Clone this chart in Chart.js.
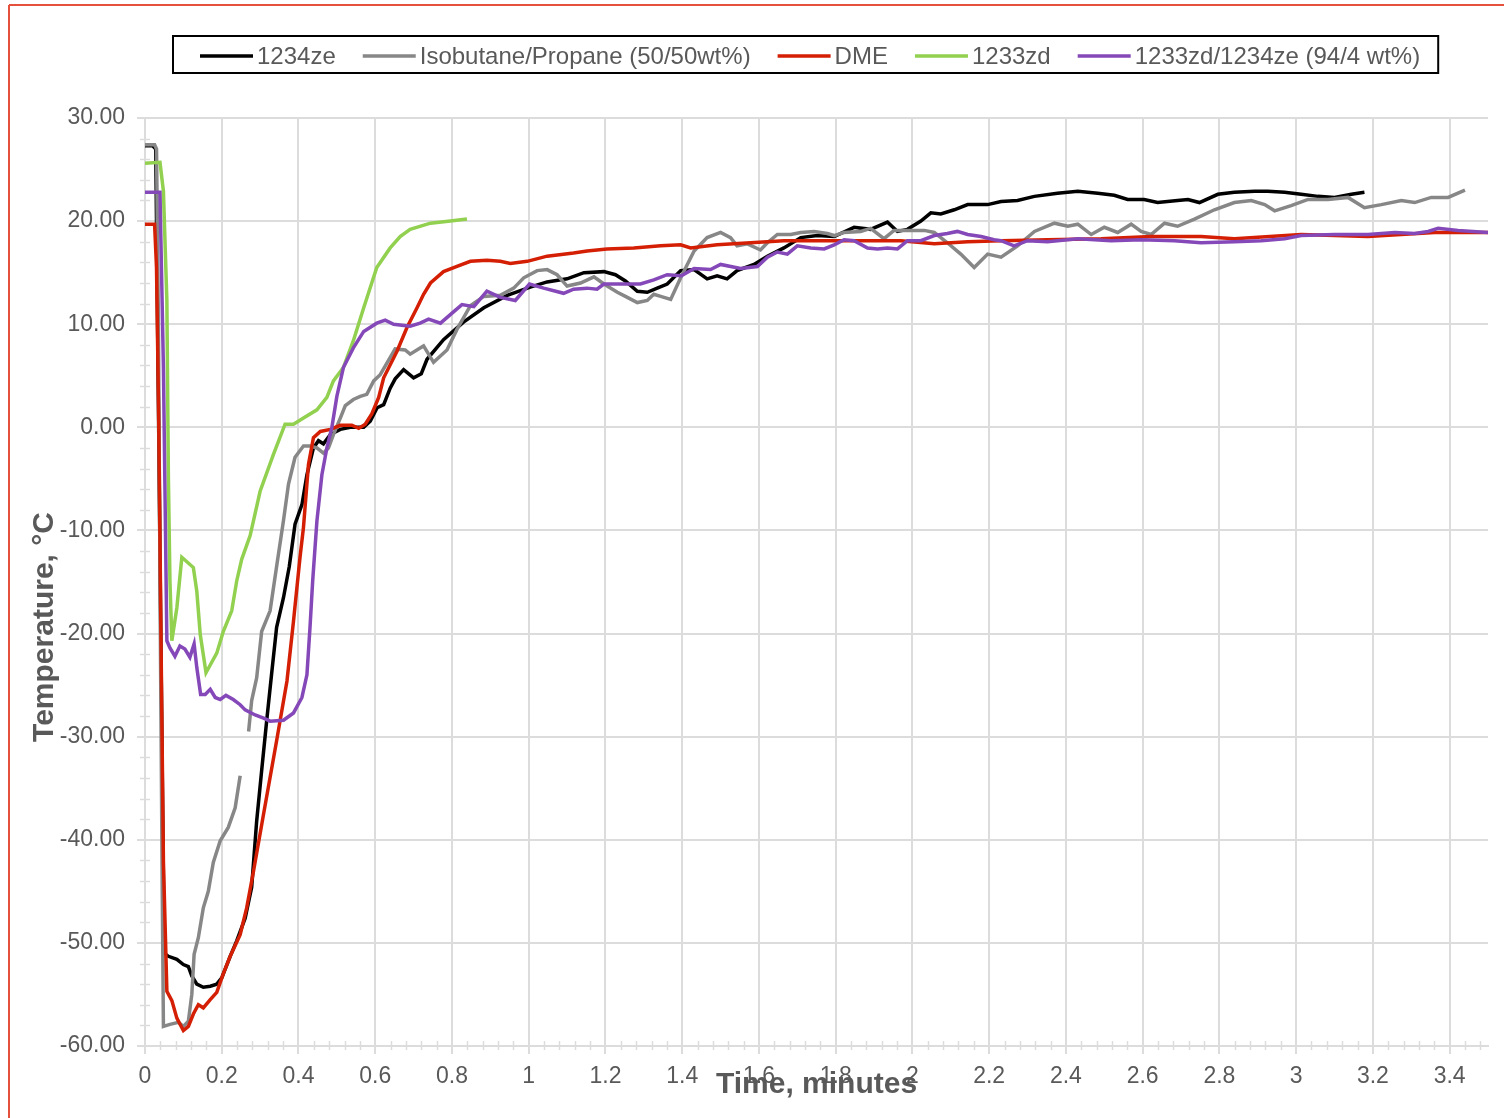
<!DOCTYPE html>
<html>
<head>
<meta charset="utf-8">
<script src="https://cdn.jsdelivr.net/npm/chart.js@4.4.1/dist/chart.umd.min.js"></script>
<style>
  html, body { margin: 0; padding: 0; background: #fff; }
  canvas { display: block; }
</style>
</head>
<body>
<canvas id="tempChart" width="1504" height="1118"></canvas>
<script>
// Time (minutes) / temperature (°C)
const ze1234Time = [0, 0.02, 0.028, 0.05, 0.061, 0.083, 0.1, 0.113, 0.122, 0.135, 0.152, 0.17, 0.187, 0.2, 0.222, 0.239, 0.261, 0.278, 0.291, 0.304, 0.317, 0.33, 0.343, 0.361, 0.376, 0.391, 0.409, 0.422, 0.439, 0.452, 0.465, 0.483, 0.509, 0.535, 0.57, 0.587, 0.605, 0.622, 0.639, 0.652, 0.674, 0.7, 0.72, 0.735, 0.778, 0.83, 0.883, 0.944, 1.004, 1.048, 1.1, 1.144, 1.196, 1.226, 1.252, 1.283, 1.309, 1.335, 1.361, 1.396, 1.431, 1.465, 1.491, 1.517, 1.543, 1.587, 1.622, 1.665, 1.709, 1.752, 1.796, 1.848, 1.891, 1.935, 1.961, 1.987, 2.022, 2.048, 2.074, 2.109, 2.144, 2.196, 2.231, 2.274, 2.318, 2.378, 2.431, 2.483, 2.526, 2.561, 2.604, 2.639, 2.691, 2.718, 2.748, 2.796, 2.839, 2.892, 2.926, 2.97, 3.013, 3.057, 3.1, 3.144, 3.178];
const ze1234Temp = [27.3, 27.3, 27.0, -51.0, -51.3, -51.6, -52.1, -52.3, -53.2, -54.0, -54.3, -54.2, -54.0, -53.4, -51.3, -49.8, -47.6, -44.6, -38.2, -33.3, -28.5, -23.9, -19.4, -16.5, -13.5, -9.4, -7.5, -4.6, -2.0, -1.3, -1.6, -0.7, -0.2, 0.0, 0.0, 0.6, 1.9, 2.2, 3.8, 4.7, 5.6, 4.8, 5.2, 6.6, 8.5, 10.2, 11.6, 12.8, 13.6, 14.1, 14.4, 15.0, 15.1, 14.8, 14.2, 13.2, 13.1, 13.5, 13.9, 15.2, 15.3, 14.4, 14.7, 14.4, 15.2, 15.8, 16.6, 17.4, 18.4, 18.6, 18.5, 19.4, 19.2, 19.9, 19.0, 19.2, 20.0, 20.8, 20.7, 21.1, 21.6, 21.6, 21.9, 22.0, 22.4, 22.7, 22.9, 22.7, 22.5, 22.1, 22.1, 21.8, 22.0, 22.1, 21.8, 22.6, 22.8, 22.9, 22.9, 22.8, 22.6, 22.4, 22.3, 22.6, 22.8];

const isoPropTime = [0, 0.025, 0.03, 0.035, 0.04, 0.045, 0.048, 0.065, 0.087, 0.1, 0.113, 0.122, 0.128, 0.139, 0.152, 0.165, 0.178, 0.196, 0.217, 0.235, 0.248, 0.259, 0.27, 0.278, 0.291, 0.304, 0.326, 0.343, 0.361, 0.374, 0.391, 0.413, 0.43, 0.448, 0.465, 0.478, 0.491, 0.509, 0.522, 0.543, 0.561, 0.578, 0.596, 0.613, 0.652, 0.678, 0.691, 0.717, 0.726, 0.752, 0.787, 0.813, 0.848, 0.883, 0.926, 0.961, 0.987, 1.022, 1.048, 1.074, 1.1, 1.135, 1.17, 1.196, 1.231, 1.257, 1.283, 1.309, 1.326, 1.344, 1.37, 1.396, 1.431, 1.465, 1.5, 1.526, 1.543, 1.57, 1.604, 1.622, 1.648, 1.683, 1.709, 1.744, 1.778, 1.796, 1.822, 1.865, 1.891, 1.926, 1.952, 1.987, 2.031, 2.057, 2.091, 2.126, 2.161, 2.196, 2.231, 2.274, 2.318, 2.37, 2.405, 2.431, 2.466, 2.5, 2.535, 2.57, 2.596, 2.622, 2.657, 2.691, 2.735, 2.787, 2.839, 2.883, 2.918, 2.944, 2.987, 3.031, 3.083, 3.135, 3.178, 3.222, 3.274, 3.309, 3.352, 3.396, 3.44];
const isoPropTemp = [27.4, 27.4, 27.0, 10.0, -20.0, -45.0, -58.1, -57.9, -57.7, -58.1, -57.6, -55.0, -51.1, -49.5, -46.6, -45.0, -42.2, -40.1, -38.8, -36.9, -33.8, null, -29.5, -26.5, -24.3, -19.8, -17.8, -13.5, -9.0, -5.5, -2.9, -1.8, -1.8, -2.0, -2.5, -2.0, -0.7, 0.9, 2.1, 2.7, 3.0, 3.2, 4.5, 5.1, 7.6, 7.5, 7.1, 7.7, 7.9, 6.3, 7.5, 9.5, 11.8, 12.7, 12.8, 13.5, 14.5, 15.2, 15.3, 14.8, 13.7, 14.0, 14.6, 13.9, 13.1, 12.6, 12.1, 12.3, 12.9, 12.7, 12.4, 14.5, 17.1, 18.4, 18.9, 18.4, 17.6, 17.8, 17.2, 17.9, 18.7, 18.7, 18.9, 19.0, 18.8, 18.6, 18.9, 19.0, 19.3, 18.3, 19.1, 19.1, 19.1, 18.9, 17.9, 16.8, 15.5, 16.8, 16.5, 17.6, 19.0, 19.8, 19.5, 19.7, 18.7, 19.4, 18.9, 19.7, 19.0, 18.7, 19.8, 19.5, 20.2, 21.1, 21.8, 22.0, 21.6, 21.0, 21.5, 22.1, 22.1, 22.3, 21.3, 21.6, 22.0, 21.8, 22.3, 22.3, 23.0];

const dmeTime = [0, 0.025, 0.03, 0.036, 0.043, 0.048, 0.057, 0.07, 0.083, 0.1, 0.113, 0.126, 0.139, 0.152, 0.17, 0.187, 0.204, 0.222, 0.248, 0.265, 0.283, 0.309, 0.343, 0.37, 0.387, 0.404, 0.413, 0.426, 0.439, 0.457, 0.483, 0.509, 0.539, 0.557, 0.574, 0.591, 0.609, 0.622, 0.657, 0.683, 0.709, 0.726, 0.744, 0.778, 0.813, 0.848, 0.891, 0.926, 0.952, 0.996, 1.048, 1.117, 1.152, 1.204, 1.274, 1.344, 1.396, 1.422, 1.491, 1.578, 1.665, 1.796, 1.883, 1.97, 2.057, 2.144, 2.231, 2.352, 2.492, 2.622, 2.752, 2.839, 3.013, 3.187, 3.361, 3.5];
const dmeTemp = [19.7, 19.7, 15.5, 0.0, -25.0, -42.1, -54.7, -55.6, -57.3, -58.5, -58.1, -56.9, -56.0, -56.3, -55.5, -54.8, -53.0, -51.3, -49.2, -46.6, -43.0, -37.5, -30.4, -24.6, -18.8, -12.6, -9.7, -3.6, -1.0, -0.4, -0.2, 0.2, 0.2, -0.1, 0.3, 1.3, 2.9, 4.8, 7.4, 9.7, 11.6, 12.9, 14.0, 15.1, 15.6, 16.1, 16.2, 16.1, 15.9, 16.1, 16.6, 16.9, 17.1, 17.3, 17.4, 17.6, 17.7, 17.4, 17.7, 17.9, 18.1, 18.1, 18.1, 18.1, 17.8, 18.0, 18.1, 18.2, 18.3, 18.5, 18.5, 18.3, 18.7, 18.5, 18.9, 18.9];

const zd1233Time = [0, 0.039, 0.048, 0.057, 0.061, 0.065, 0.07, 0.083, 0.096, 0.126, 0.135, 0.144, 0.159, 0.187, 0.204, 0.226, 0.239, 0.252, 0.274, 0.3, 0.335, 0.365, 0.387, 0.413, 0.448, 0.474, 0.491, 0.517, 0.543, 0.57, 0.604, 0.639, 0.665, 0.691, 0.744, 0.796, 0.839];
const zd1233Temp = [25.6, 25.7, 22.9, 12.3, -5.0, -14.9, -20.7, -17.5, -12.6, -13.6, -15.9, -20.1, -23.8, -21.9, -19.8, -17.8, -14.9, -12.8, -10.5, -6.2, -2.6, 0.3, 0.3, 0.9, 1.7, 2.9, 4.5, 5.8, 8.4, 11.6, 15.5, 17.4, 18.5, 19.2, 19.8, 20.0, 20.2];

const blendTime = [0, 0.039, 0.048, 0.052, 0.057, 0.065, 0.078, 0.091, 0.104, 0.117, 0.128, 0.135, 0.145, 0.157, 0.17, 0.183, 0.196, 0.211, 0.23, 0.248, 0.261, 0.287, 0.309, 0.326, 0.361, 0.387, 0.409, 0.422, 0.43, 0.437, 0.448, 0.461, 0.474, 0.487, 0.5, 0.517, 0.543, 0.57, 0.604, 0.626, 0.648, 0.691, 0.717, 0.739, 0.77, 0.804, 0.826, 0.857, 0.891, 0.926, 0.965, 1.002, 1.039, 1.091, 1.117, 1.152, 1.178, 1.196, 1.257, 1.291, 1.326, 1.361, 1.398, 1.431, 1.474, 1.5, 1.552, 1.596, 1.622, 1.648, 1.674, 1.7, 1.735, 1.77, 1.796, 1.822, 1.848, 1.883, 1.909, 1.935, 1.961, 1.987, 2.022, 2.057, 2.091, 2.117, 2.144, 2.179, 2.213, 2.231, 2.265, 2.3, 2.352, 2.431, 2.518, 2.596, 2.683, 2.752, 2.839, 2.909, 2.97, 3.013, 3.1, 3.187, 3.257, 3.309, 3.344, 3.37, 3.422, 3.5];
const blendTemp = [22.8, 22.8, 5.8, -6.0, -20.7, -21.4, -22.2, -21.2, -21.5, -22.3, -21.0, -23.3, -25.9, -25.9, -25.4, -26.2, -26.4, -26.0, -26.4, -26.9, -27.4, -27.9, -28.2, -28.5, -28.4, -27.7, -26.2, -24.0, -19.4, -14.9, -9.1, -4.6, -2.0, 0.0, 3.0, 5.8, 7.7, 9.3, 10.1, 10.4, 10.0, 9.8, 10.1, 10.5, 10.1, 11.2, 11.9, 11.7, 13.2, 12.6, 12.3, 13.9, 13.5, 13.0, 13.4, 13.5, 13.4, 13.9, 13.9, 13.9, 14.3, 14.8, 14.7, 15.4, 15.3, 15.8, 15.4, 15.6, 16.5, 17.0, 16.8, 17.6, 17.4, 17.3, 17.7, 18.2, 18.1, 17.4, 17.3, 17.4, 17.3, 18.1, 18.1, 18.6, 18.8, 19.0, 18.7, 18.5, 18.2, 18.1, 17.6, 18.1, 18.0, 18.3, 18.1, 18.2, 18.1, 17.9, 18.0, 18.1, 18.3, 18.6, 18.7, 18.7, 18.9, 18.8, 19.0, 19.3, 19.1, 18.9];

const seriesNames = ['1234ze', 'Isobutane/Propane (50/50wt%)', 'DME', '1233zd', '1233zd/1234ze (94/4 wt%)'];
const seriesColors = ['#000000', '#878787', '#d41f05', '#92d050', '#8548b8'];

const xTickValues = [0, 0.2, 0.4, 0.6, 0.8, 1, 1.2, 1.4, 1.6, 1.8, 2, 2.2, 2.4, 2.6, 2.8, 3, 3.2, 3.4];
const xTickLabels = ['0', '0.2', '0.4', '0.6', '0.8', '1', '1.2', '1.4', '1.6', '1.8', '2', '2.2', '2.4', '2.6', '2.8', '3', '3.2', '3.4'];
const yTickValues = [-60, -50, -40, -30, -20, -10, 0, 10, 20, 30];
const yTickLabels = ['-60.00', '-50.00', '-40.00', '-30.00', '-20.00', '-10.00', '0.00', '10.00', '20.00', '30.00'];

const xTitle = 'Time, minutes';
const yTitle = 'Temperature, °C';

const TEXT = '#595959';
const GRID = '#dcdcdc';
const FONT = '"Liberation Sans", Arial, sans-serif';

function toPoints(xs, ys) {
  return xs.map((x, i) => ({ x: x, y: ys[i] }));
}

const seriesData = [
  toPoints(ze1234Time, ze1234Temp),
  toPoints(isoPropTime, isoPropTemp),
  toPoints(dmeTime, dmeTemp),
  toPoints(zd1233Time, zd1233Temp),
  toPoints(blendTime, blendTemp)
];

function line(ctx, x1, y1, x2, y2) {
  ctx.beginPath();
  ctx.moveTo(x1, y1);
  ctx.lineTo(x2, y2);
  ctx.stroke();
}

// minor ticks, axis titles, boxed legend and the outer frame
const decorPlugin = {
  id: 'decor',
  beforeDatasetsDraw(chart) {
    const { ctx, chartArea: a, scales: { x, y } } = chart;
    ctx.save();
    ctx.strokeStyle = GRID;
    ctx.lineWidth = 1.5;
    for (let v = -60; v <= 30; v += 2) {
      if (v % 10 === 0) continue;
      const py = Math.round(y.getPixelForValue(v)) + 0.5;
      line(ctx, a.left - 5, py, a.left + 5, py);
    }
    for (let i = 1; i * 0.04 <= x.max; i++) {
      if (i % 5 === 0) continue;
      const px = Math.round(x.getPixelForValue(i * 0.04)) + 0.5;
      line(ctx, px, a.bottom - 5, px, a.bottom + 4);
    }
    ctx.restore();
  },
  afterDraw(chart) {
    const { ctx, chartArea: a } = chart;
    ctx.save();

    // axis titles
    ctx.fillStyle = TEXT;
    ctx.font = 'bold 30px ' + FONT;
    ctx.textAlign = 'center';
    ctx.textBaseline = 'middle';
    ctx.fillText(xTitle, (a.left + a.right) / 2, 1085);
    ctx.translate(45, 627);
    ctx.rotate(-Math.PI / 2);
    ctx.fillText(yTitle, 0, 0);
    ctx.setTransform(1, 0, 0, 1, 0, 0);

    // legend
    ctx.font = '24px ' + FONT;
    ctx.textAlign = 'left';
    let lx = 200;
    const ly = 56;
    chart.data.datasets.forEach((ds, i) => {
      ctx.strokeStyle = ds.borderColor;
      ctx.lineWidth = 3.5;
      line(ctx, lx, ly, lx + 53, ly);
      ctx.fillStyle = TEXT;
      ctx.fillText(ds.label, lx + 57, ly + 1);
      lx += 57 + ctx.measureText(ds.label).width;
      if (i < chart.data.datasets.length - 1) lx += 27;
    });
    ctx.strokeStyle = '#000';
    ctx.lineWidth = 2;
    ctx.strokeRect(173, 36, lx + 18 - 173, 37);

    // outer frame
    ctx.strokeStyle = '#e6513d';
    ctx.lineWidth = 2;
    line(ctx, 9, 5, 1504, 5);
    line(ctx, 9, 5, 9, 1118);
    ctx.restore();
  }
};

new Chart(document.getElementById('tempChart').getContext('2d'), {
  type: 'scatter',
  data: {
    datasets: seriesData.map((pts, i) => ({
      label: seriesNames[i],
      data: pts,
      showLine: true,
      borderColor: seriesColors[i],
      backgroundColor: seriesColors[i],
      borderWidth: 3.5,
      pointRadius: 0,
      tension: 0,
      spanGaps: false,
      order: seriesNames.length - i
    }))
  },
  options: {
    responsive: false,
    animation: false,
    layout: { padding: { top: 118, right: 16, bottom: 0, left: 0 } },
    plugins: {
      legend: { display: false },
      tooltip: { enabled: false }
    },
    scales: {
      x: {
        type: 'linear',
        min: 0,
        max: 3.5,
        afterBuildTicks: s => { s.ticks = xTickValues.map(v => ({ value: v })); },
        afterFit: s => { s.height = 72; },
        ticks: {
          callback: (v, i) => xTickLabels[i],
          color: TEXT,
          font: { family: FONT, size: 23 },
          padding: 9,
          maxRotation: 0
        },
        grid: { color: GRID, lineWidth: 2, tickLength: 8, tickColor: GRID },
        border: { color: GRID, width: 2 }
      },
      y: {
        type: 'linear',
        min: -60,
        max: 30,
        afterBuildTicks: s => { s.ticks = yTickValues.map(v => ({ value: v })); },
        afterFit: s => { s.width = 145; },
        ticks: {
          callback: (v, i) => yTickLabels[i],
          color: TEXT,
          font: { family: FONT, size: 23 },
          padding: 12
        },
        grid: { color: GRID, lineWidth: 2, tickLength: 8, tickColor: GRID },
        border: { color: GRID, width: 2 }
      }
    }
  },
  plugins: [decorPlugin]
});
</script>
</body>
</html>
